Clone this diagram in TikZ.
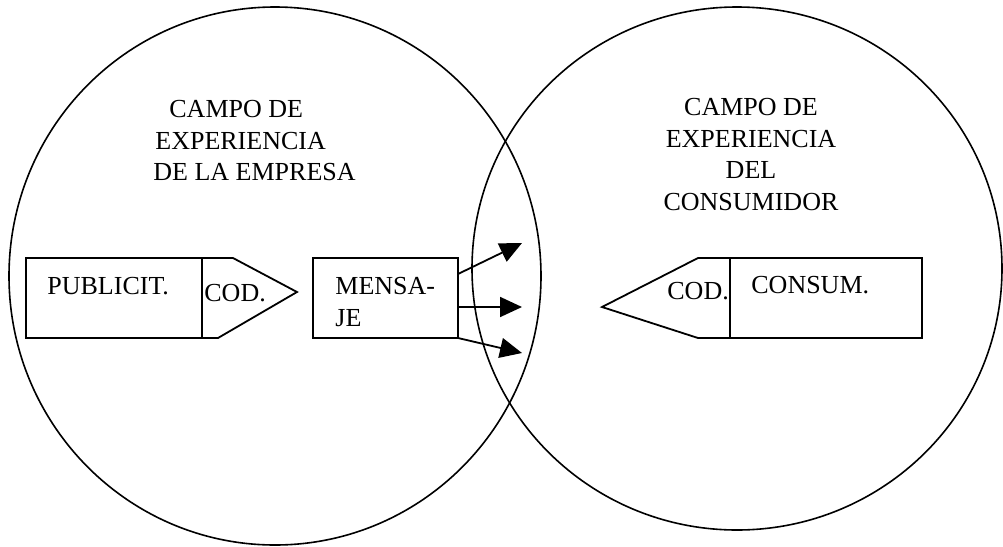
\documentclass[tikz,border=0pt]{standalone}
\usepackage{fontspec}
\setmainfont{Liberation Serif}
\usetikzlibrary{arrows.meta,calc}
\tikzset{
    campo/.style={line width=0.8pt},
    caja/.style={draw, line width=0.9pt, inner sep=0pt, outer sep=0pt, minimum height=40pt},
    texto/.style={inner sep=0pt, font=\fontsize{13}{15.75}\selectfont},
    flecha/.style={line width=0.9pt, -{Triangle[length=11pt,width=10pt]}}
}
\begin{document}
\begin{tikzpicture}[x=0.5pt,y=-0.5pt]
                \useasboundingbox (0,0) rectangle (1003,547);
                \draw[campo] (275,276) ellipse [x radius=266, y radius=269];
                \draw[campo] (737,268.5) ellipse [x radius=265, y radius=261.5];
                \node[texto, align=left, anchor=north west] (tituloempresa) at (153,100)
                    {\hspace{8pt}CAMPO DE\\\hspace{1pt}EXPERIENCIA\\DE LA EMPRESA};
                \node[texto, align=center, anchor=north] (tituloconsumidor) at (751,98)
                    {CAMPO DE\\EXPERIENCIA\\DEL\\CONSUMIDOR};
                % emisor
                \node[caja, minimum width=88pt] (publicit) at (114,298) {};
                \draw[line width=0.9pt] (publicit.north east) -- (233,258) -- (297,292) -- (218,338) -- (publicit.south east);
                \node[texto, anchor=west] at (47,286) {PUBLICIT.};
                \node[texto, anchor=west] at (204,293.5) {COD.};
                % mensaje
                \node[caja, minimum width=72.5pt] (mensaje) at (385.5,298) {};
                \node[texto, align=left, anchor=north west] at (335,277) {MENSA-\\JE};
                \coordinate (tipa) at (522,243);
                \coordinate (tipb) at (522,307);
                \coordinate (tipc) at (522,353);
                \draw[flecha] ($(mensaje.north east)+(0,16)$) -- (tipa);
                \draw[flecha] ($(mensaje.east)+(0,9)$) -- (tipb);
                \draw[flecha] (mensaje.south east) -- (tipc);
                % receptor
                \node[caja, minimum width=96pt] (consum) at (826,298) {};
                \draw[line width=0.9pt] (consum.north west) -- (698,258) -- (602,307) -- (698,338) -- (consum.south west);
                \node[texto, anchor=west] at (667,291.5) {COD.};
                \node[texto, anchor=west] at (751,285) {CONSUM.};
\end{tikzpicture}
\end{document}
